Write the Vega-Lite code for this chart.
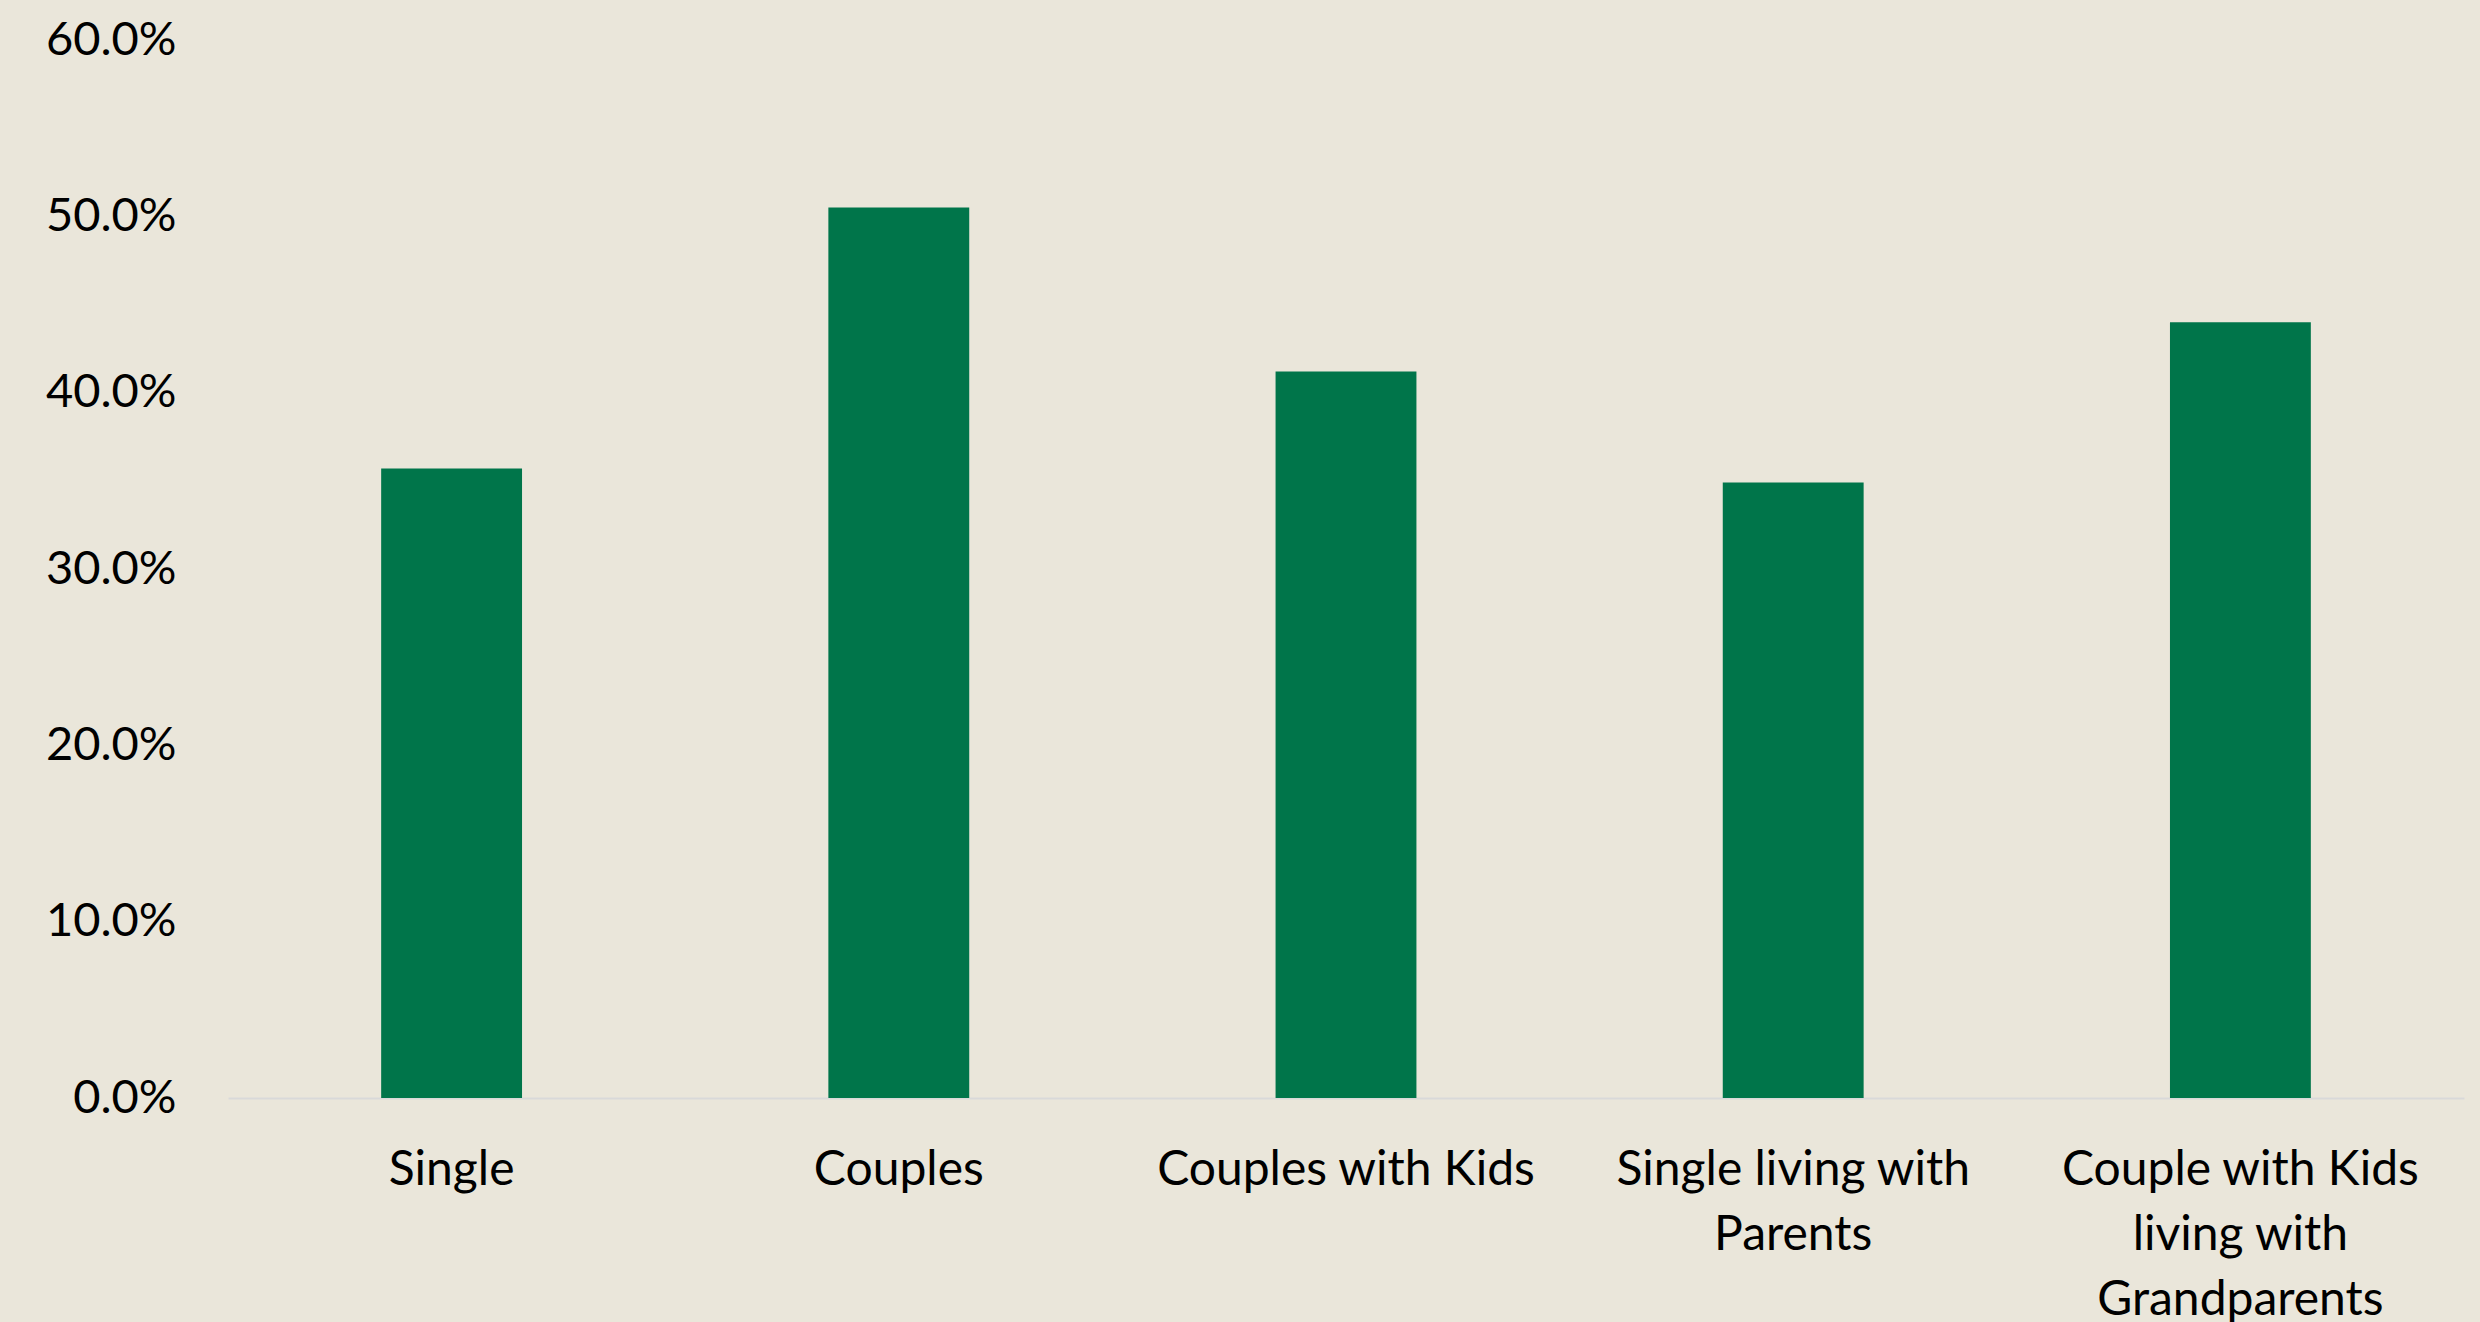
{
  "$schema": "https://vega.github.io/schema/vega-lite/v6.json",
  "autosize": "none",
  "width": 2236,
  "height": 1058,
  "padding": {"left": 228, "top": 40, "right": 16, "bottom": 224},
  "background": "#EAE6DA",
  "config": {
    "view": {"stroke": null},
    "font": "Lato"
  },
  "data": {
    "values": [
      {"category": "Single", "share": 0.357},
      {"category": "Couples", "share": 0.505},
      {"category": "Couples with Kids", "share": 0.412},
      {"category": "Single living with Parents", "share": 0.349},
      {"category": "Couple with Kids living with Grandparents", "share": 0.440}
    ]
  },
  "mark": {"type": "bar", "color": "#00754A"},
  "encoding": {
    "x": {
      "field": "category",
      "type": "nominal",
      "sort": null,
      "scale": {"paddingInner": 0.685, "paddingOuter": 0.3425},
      "axis": {
        "title": null,
        "labelAngle": 0,
        "labelFont": "Lato",
        "labelFontSize": 48,
        "labelColor": "#000000",
        "labelPadding": 48,
        "labelLineHeight": 65,
        "labelBaseline": "top",
        "labelLimit": 0,
        "ticks": false,
        "domainColor": "#D9D9D9",
        "domainWidth": 2,
        "labelExpr": "datum.label == 'Single living with Parents' ? ['Single living with', 'Parents'] : datum.label == 'Couple with Kids living with Grandparents' ? ['Couple with Kids', 'living with', 'Grandparents'] : datum.label"
      }
    },
    "y": {
      "field": "share",
      "type": "quantitative",
      "scale": {"domain": [0, 0.6]},
      "axis": {
        "title": null,
        "format": ".1%",
        "values": [0, 0.1, 0.2, 0.3, 0.4, 0.5, 0.6],
        "grid": false,
        "domain": false,
        "ticks": false,
        "labelFont": "Lato",
        "labelFontSize": 47,
        "labelColor": "#000000",
        "labelPadding": 52
      }
    }
  }
}
